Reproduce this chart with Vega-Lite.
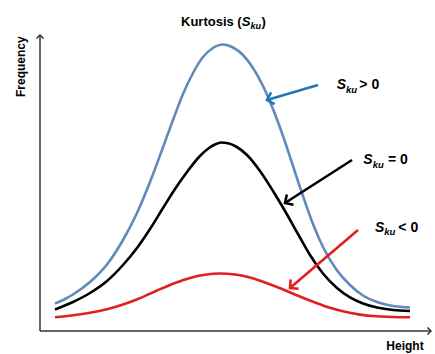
{
  "$schema": "https://vega.github.io/schema/vega-lite/v6.json",
  "width": 392,
  "height": 300,
  "autosize": "none",
  "padding": {"left": 40, "top": 31, "right": 3, "bottom": 23},
  "background": "white",
  "config": {"view": {"stroke": null}, "text": {"font": "Liberation Sans"}},
  "datasets": {
    "curves": [
      {"series": "Sku > 0", "x": 3.75, "y": 9.17}, {"series": "Sku > 0", "x": 6.25, "y": 10.67}, {"series": "Sku > 0", "x": 8.25, "y": 12.17},
      {"series": "Sku > 0", "x": 12.5, "y": 16.33}, {"series": "Sku > 0", "x": 16.75, "y": 22.17}, {"series": "Sku > 0", "x": 20.75, "y": 30.33},
      {"series": "Sku > 0", "x": 24.25, "y": 39.33}, {"series": "Sku > 0", "x": 27.5, "y": 49.67}, {"series": "Sku > 0", "x": 30.5, "y": 60.33},
      {"series": "Sku > 0", "x": 33.25, "y": 70.33}, {"series": "Sku > 0", "x": 35.75, "y": 79}, {"series": "Sku > 0", "x": 38.25, "y": 86},
      {"series": "Sku > 0", "x": 40.75, "y": 91.33}, {"series": "Sku > 0", "x": 43.25, "y": 94.33}, {"series": "Sku > 0", "x": 45.75, "y": 95.5},
      {"series": "Sku > 0", "x": 48.25, "y": 94.5}, {"series": "Sku > 0", "x": 50.75, "y": 92}, {"series": "Sku > 0", "x": 53.25, "y": 87.67},
      {"series": "Sku > 0", "x": 55.75, "y": 81.67}, {"series": "Sku > 0", "x": 58.25, "y": 74}, {"series": "Sku > 0", "x": 60.75, "y": 65},
      {"series": "Sku > 0", "x": 63.25, "y": 55}, {"series": "Sku > 0", "x": 65.75, "y": 45}, {"series": "Sku > 0", "x": 68.25, "y": 35.67},
      {"series": "Sku > 0", "x": 70.75, "y": 28}, {"series": "Sku > 0", "x": 74, "y": 20.67}, {"series": "Sku > 0", "x": 77.5, "y": 15.33},
      {"series": "Sku > 0", "x": 80.75, "y": 11.83}, {"series": "Sku > 0", "x": 84.25, "y": 9.67}, {"series": "Sku > 0", "x": 88.25, "y": 8.33},
      {"series": "Sku > 0", "x": 92.5, "y": 7.83},
      {"series": "Sku = 0", "x": 3.75, "y": 7.17}, {"series": "Sku = 0", "x": 8.25, "y": 9.67}, {"series": "Sku = 0", "x": 12.5, "y": 12.67},
      {"series": "Sku = 0", "x": 16.75, "y": 16.67}, {"series": "Sku = 0", "x": 20.75, "y": 22}, {"series": "Sku = 0", "x": 24.25, "y": 27.67},
      {"series": "Sku = 0", "x": 27.5, "y": 34}, {"series": "Sku = 0", "x": 30.75, "y": 41}, {"series": "Sku = 0", "x": 33.75, "y": 47.33},
      {"series": "Sku = 0", "x": 36.75, "y": 53}, {"series": "Sku = 0", "x": 39.75, "y": 58}, {"series": "Sku = 0", "x": 42.25, "y": 61},
      {"series": "Sku = 0", "x": 43.75, "y": 62.17}, {"series": "Sku = 0", "x": 45.25, "y": 62.83}, {"series": "Sku = 0", "x": 47, "y": 62.6},
      {"series": "Sku = 0", "x": 49, "y": 61.5}, {"series": "Sku = 0", "x": 51.75, "y": 58.67}, {"series": "Sku = 0", "x": 55, "y": 53.33},
      {"series": "Sku = 0", "x": 58.25, "y": 46.67}, {"series": "Sku = 0", "x": 61.25, "y": 40}, {"series": "Sku = 0", "x": 64.5, "y": 32.33},
      {"series": "Sku = 0", "x": 67.5, "y": 25.33}, {"series": "Sku = 0", "x": 70.75, "y": 19.17}, {"series": "Sku = 0", "x": 74.25, "y": 14.33},
      {"series": "Sku = 0", "x": 77.5, "y": 11.17}, {"series": "Sku = 0", "x": 80.75, "y": 9.17}, {"series": "Sku = 0", "x": 84.25, "y": 7.83},
      {"series": "Sku = 0", "x": 88.25, "y": 7}, {"series": "Sku = 0", "x": 92.5, "y": 6.67},
      {"series": "Sku < 0", "x": 3.75, "y": 4.57}, {"series": "Sku < 0", "x": 8.25, "y": 5.23}, {"series": "Sku < 0", "x": 12.5, "y": 6.07},
      {"series": "Sku < 0", "x": 16.75, "y": 7.23}, {"series": "Sku < 0", "x": 20.75, "y": 8.83}, {"series": "Sku < 0", "x": 24.5, "y": 10.67},
      {"series": "Sku < 0", "x": 29.25, "y": 13.5}, {"series": "Sku < 0", "x": 33.75, "y": 16}, {"series": "Sku < 0", "x": 37.5, "y": 17.67},
      {"series": "Sku < 0", "x": 41.25, "y": 18.73}, {"series": "Sku < 0", "x": 45, "y": 19.17}, {"series": "Sku < 0", "x": 48.75, "y": 18.83},
      {"series": "Sku < 0", "x": 52, "y": 18}, {"series": "Sku < 0", "x": 56.25, "y": 16.17}, {"series": "Sku < 0", "x": 60.5, "y": 14},
      {"series": "Sku < 0", "x": 64.5, "y": 11.73}, {"series": "Sku < 0", "x": 68.75, "y": 9.5}, {"series": "Sku < 0", "x": 72.5, "y": 7.73},
      {"series": "Sku < 0", "x": 76.25, "y": 6.4}, {"series": "Sku < 0", "x": 80, "y": 5.47}, {"series": "Sku < 0", "x": 84.25, "y": 4.9},
      {"series": "Sku < 0", "x": 88.25, "y": 4.67}, {"series": "Sku < 0", "x": 92.5, "y": 4.57}
    ],
    "arrows": [
      {"series": "Sku > 0", "x": 56.75, "y": 77, "x2": 69.5, "y2": 82},
      {"series": "Sku = 0", "x": 61.25, "y": 42.67, "x2": 78, "y2": 57},
      {"series": "Sku < 0", "x": 62.5, "y": 14.33, "x2": 79.5, "y2": 33.67}
    ],
    "axes": [
      {"axis": "Frequency", "x": 0, "y": 98.67, "x2": 0, "y2": 0},
      {"axis": "Height", "x": 97.75, "y": 0, "x2": 0, "y2": 0}
    ],
    "texts": [
      {"g": "title", "x": 35.25, "y": 101.67, "text": "Kurtosis ("},
      {"g": "title", "x": 55.35, "y": 101.67, "text": ")"},
      {"g": "titleS", "x": 50.43, "y": 101.67, "text": "S"},
      {"g": "titleSub", "x": 52.6, "y": 100.67, "text": "ku"},
      {"g": "lab", "x": 79.83, "y": 80.57, "text": "> 0"},
      {"g": "lab", "x": 87.0, "y": 55.57, "text": "= 0"},
      {"g": "lab", "x": 89.58, "y": 33.1, "text": "< 0"},
      {"g": "labS", "x": 74.17, "y": 80.57, "text": "S"},
      {"g": "labS", "x": 80.83, "y": 55.57, "text": "S"},
      {"g": "labS", "x": 83.75, "y": 33.1, "text": "S"},
      {"g": "labSub", "x": 76.5, "y": 79.5, "text": "ku"},
      {"g": "labSub", "x": 83.17, "y": 54.5, "text": "ku"},
      {"g": "labSub", "x": 86.08, "y": 32, "text": "ku"},
      {"g": "yt", "x": -4.75, "y": 88.1, "text": "Frequency"},
      {"g": "xt", "x": 91.25, "y": -6.33, "text": "Height"}
    ]
  },
  "encoding": {
    "x": {"field": "x", "type": "quantitative", "scale": {"domain": [0, 98], "nice": false, "zero": false}, "axis": null},
    "y": {"field": "y", "type": "quantitative", "scale": {"domain": [0, 100], "nice": false, "zero": false}, "axis": null}
  },
  "layer": [
    {
      "data": {"name": "axes"},
      "mark": {"type": "rule", "color": "#333333", "strokeWidth": 1.5},
      "encoding": {"x2": {"field": "x2"}, "y2": {"field": "y2"}}
    },
    {
      "data": {"name": "axes"},
      "transform": [{"filter": "datum.axis == 'Frequency'"}],
      "mark": {"type": "point", "shape": "M-1,-1L0,0L-1,1", "filled": false, "size": 50, "strokeWidth": 1.5, "color": "#333333", "opacity": 1, "angle": 270}
    },
    {
      "data": {"name": "axes"},
      "transform": [{"filter": "datum.axis == 'Height'"}],
      "mark": {"type": "point", "shape": "M-1,-1L0,0L-1,1", "filled": false, "size": 50, "strokeWidth": 1.5, "color": "#333333", "opacity": 1, "angle": 0}
    },
    {
      "data": {"name": "curves"},
      "mark": {"type": "line", "interpolate": "monotone", "strokeWidth": 2.6},
      "encoding": {
        "color": {"field": "series", "type": "nominal", "scale": {"domain": ["Sku > 0", "Sku = 0", "Sku < 0"], "range": ["#6389bb", "#000000", "#e02020"]}, "legend": null}
      }
    },
    {
      "data": {"name": "arrows"},
      "mark": {"type": "rule", "strokeWidth": 2.6},
      "encoding": {
        "x2": {"field": "x2"}, "y2": {"field": "y2"},
        "color": {"field": "series", "type": "nominal", "scale": {"domain": ["Sku > 0", "Sku = 0", "Sku < 0"], "range": ["#2374b8", "#000000", "#e02020"]}, "legend": null}
      }
    },
    {
      "data": {"name": "arrows"},
      "transform": [{"filter": "datum.series == 'Sku > 0'"}],
      "mark": {"type": "point", "shape": "M-1,-1L0,0L-1,1", "filled": false, "size": 150, "strokeWidth": 2.6, "color": "#2374b8", "opacity": 1, "angle": 163.6}
    },
    {
      "data": {"name": "arrows"},
      "transform": [{"filter": "datum.series == 'Sku = 0'"}],
      "mark": {"type": "point", "shape": "M-1,-1L0,0L-1,1", "filled": false, "size": 150, "strokeWidth": 2.6, "color": "#000000", "opacity": 1, "angle": 147.3}
    },
    {
      "data": {"name": "arrows"},
      "transform": [{"filter": "datum.series == 'Sku < 0'"}],
      "mark": {"type": "point", "shape": "M-1,-1L0,0L-1,1", "filled": false, "size": 150, "strokeWidth": 2.6, "color": "#e02020", "opacity": 1, "angle": 139.5}
    },
    {
      "data": {"name": "texts"},
      "transform": [{"filter": "datum.g == 'title'"}],
      "mark": {"type": "text", "align": "left", "baseline": "alphabetic", "fontSize": 13, "fontWeight": "bold", "color": "#000000"},
      "encoding": {"text": {"field": "text"}}
    },
    {
      "data": {"name": "texts"},
      "transform": [{"filter": "datum.g == 'titleS'"}],
      "mark": {"type": "text", "align": "left", "baseline": "alphabetic", "fontSize": 13, "fontWeight": "bold", "fontStyle": "italic", "color": "#000000"},
      "encoding": {"text": {"field": "text"}}
    },
    {
      "data": {"name": "texts"},
      "transform": [{"filter": "datum.g == 'titleSub'"}],
      "mark": {"type": "text", "align": "left", "baseline": "alphabetic", "fontSize": 9, "fontWeight": "bold", "fontStyle": "italic", "color": "#000000"},
      "encoding": {"text": {"field": "text"}}
    },
    {
      "data": {"name": "texts"},
      "transform": [{"filter": "datum.g == 'lab'"}],
      "mark": {"type": "text", "align": "left", "baseline": "alphabetic", "fontSize": 14, "fontWeight": "bold", "color": "#000000"},
      "encoding": {"text": {"field": "text"}}
    },
    {
      "data": {"name": "texts"},
      "transform": [{"filter": "datum.g == 'labS'"}],
      "mark": {"type": "text", "align": "left", "baseline": "alphabetic", "fontSize": 14, "fontWeight": "bold", "fontStyle": "italic", "color": "#000000"},
      "encoding": {"text": {"field": "text"}}
    },
    {
      "data": {"name": "texts"},
      "transform": [{"filter": "datum.g == 'labSub'"}],
      "mark": {"type": "text", "align": "left", "baseline": "alphabetic", "fontSize": 9.5, "fontWeight": "bold", "fontStyle": "italic", "color": "#000000"},
      "encoding": {"text": {"field": "text"}}
    },
    {
      "data": {"name": "texts"},
      "transform": [{"filter": "datum.g == 'yt'"}],
      "mark": {"type": "text", "align": "center", "baseline": "middle", "angle": 270, "fontSize": 12, "fontWeight": "bold", "color": "#000000"},
      "encoding": {"text": {"field": "text"}}
    },
    {
      "data": {"name": "texts"},
      "transform": [{"filter": "datum.g == 'xt'"}],
      "mark": {"type": "text", "align": "center", "baseline": "alphabetic", "fontSize": 12, "fontWeight": "bold", "color": "#000000"},
      "encoding": {"text": {"field": "text"}}
    }
  ],
  "resolve": {"scale": {"color": "independent"}}
}
